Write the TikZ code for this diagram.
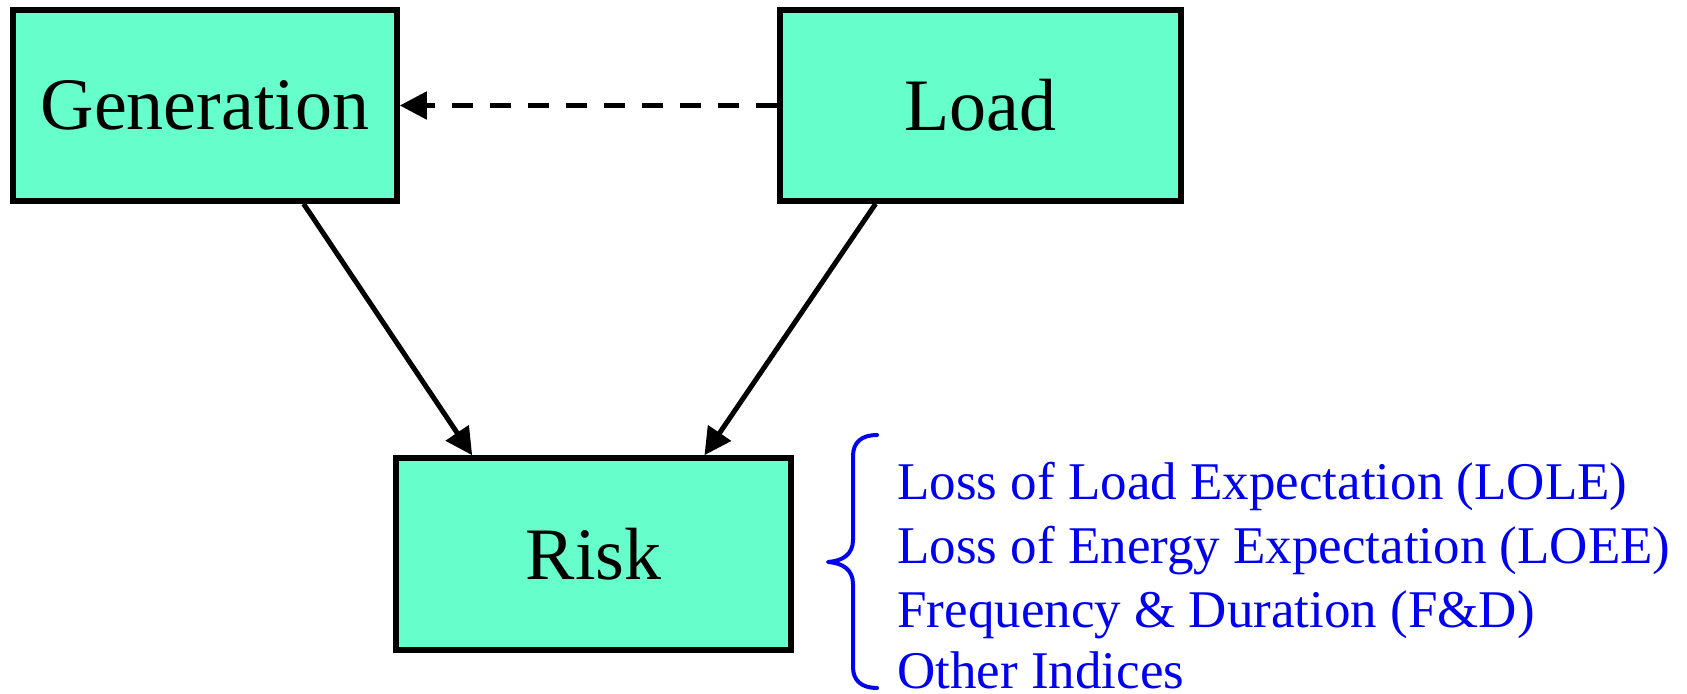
\documentclass[tikz,border=0pt]{standalone}
\usepackage{fontspec}
\setmainfont{Liberation Serif}
\usetikzlibrary{arrows.meta,calc}
\definecolor{boxfill}{HTML}{66FFCC}
\definecolor{idxblue}{HTML}{0000F0}
\begin{document}
\begin{tikzpicture}[x=0.5pt,y=-0.5pt,
  box/.style={draw=black,line width=2.75pt,fill=boxfill,inner sep=0pt,font=\fontsize{37}{44}\selectfont},
  conn/.style={line width=2.5pt,-{Triangle[length=13.5pt,width=13.5pt]}},
  idx/.style={anchor=base west,inner sep=0pt,text=idxblue,font=\fontsize{26.5}{32}\selectfont},
  bracepath/.style={draw=idxblue,line width=2pt,line join=round,line cap=round}]
\useasboundingbox (0,0) rectangle (1687,694);
\node[box,minimum width=192pt,minimum height=95.5pt] (gen) at (205,105.5) {Generation};
\node[box,minimum width=200.5pt,minimum height=95.5pt] (load) at (980.5,105.5) {Load};
\node[box,minimum width=197.5pt,minimum height=96pt] (risk) at (593.5,554) {Risk};
\draw[conn,dash pattern=on 10.75pt off 8.25pt] (load.west) -- (gen.east);
\draw[conn] ($(gen.south west)!0.753!(gen.south east)$) -- ($(risk.north west)!0.197!(risk.north east)$);
\draw[conn] ($(load.south west)!0.242!(load.south east)$) -- ($(risk.north west)!0.777!(risk.north east)$);
\coordinate (btop) at (877,435);
\coordinate (btip) at (828,562);
\coordinate (bbot) at (877,688);
\draw[bracepath] (btop) .. controls (862,435) and (853,442) .. (853,456) -- (853,540)
  .. controls (853,554) and (843,561) .. (btip)
  .. controls (843,563) and (853,570) .. (853,584) -- (853,667)
  .. controls (853,681) and (862,688) .. (bbot);
\node[idx] (l1) at (897,500) {Loss of Load Expectation (LOLE)};
\node[idx] (l2) at (897,564) {Loss of Energy Expectation (LOEE)};
\node[idx] (l3) at (897,628) {Frequency \& Duration (F\&D)};
\node[idx] (l4) at (897,689) {Other Indices};
\end{tikzpicture}
\end{document}
